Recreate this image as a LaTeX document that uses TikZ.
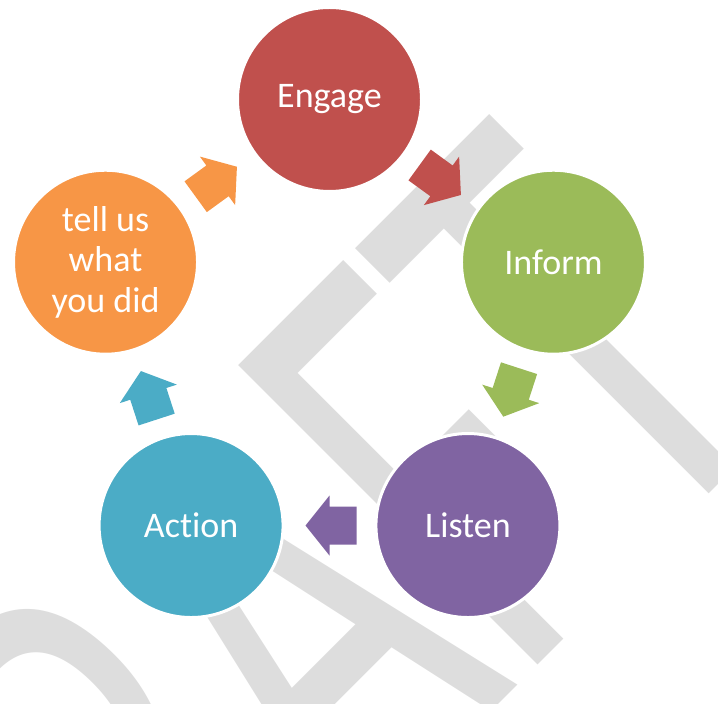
\documentclass[tikz,border=0pt]{standalone}
\usepackage{fontspec}
\setmainfont{Carlito}[Ligatures={NoCommon,NoContextual}]
\usetikzlibrary{calc}
\definecolor{cEngage}{HTML}{C0504D}
\definecolor{cInform}{HTML}{9BBB59}
\definecolor{cListen}{HTML}{8064A2}
\definecolor{cAction}{HTML}{4BACC6}
\definecolor{cTell}{HTML}{F79646}
\definecolor{wmgray}{RGB}{221,221,221}
\tikzset{
  stage/.style={circle, minimum size=184bp, inner sep=0pt, draw=white,
    line width=3bp, text=white, align=center,
    font=\fontsize{36bp}{40.3bp}\selectfont},
  blockarr/.pic={\fill[pic actions] (-27,-19) -- (0,-19) -- (0,-30) -- (24,0)
    -- (0,30) -- (0,19) -- (-27,19) -- cycle;}
}
\begin{document}
\begin{tikzpicture}[x=1bp,y=1bp]
\useasboundingbox (0,0) rectangle (718,704);
% watermark
\begin{scope}
  \clip (0,0) rectangle (718,704);
  \node[rotate=45, anchor=base east, inner sep=0pt, text=wmgray] (wm) at (793,294)
    {\scalebox{0.62}[1]{\fontsize{660bp}{660bp}\selectfont DRAFT}};
\end{scope}
\coordinate (c) at (329.5,369);
\node[stage, fill=cEngage] (engage) at ($(c)+(90:235.5)$) {Engage};
\node[stage, fill=cInform] (inform) at ($(c)+(18:235.5)$) {Inform};
\node[stage, fill=cListen] (listen) at ($(c)+(-54:235.5)$) {Listen};
\node[stage, fill=cAction] (action) at ($(c)+(-126:235.5)$) {Action};
\node[stage, fill=cTell] (tell) at ($(c)+(162:235.5)$) {tell us\\what\\you did};
% block arrows
\pic[fill=cTell, rotate=36] at ($(tell)!0.5!(engage)$) {blockarr};
\pic[fill=cEngage, rotate=-36] at ($(engage)!0.5!(inform)$) {blockarr};
\pic[fill=cInform, rotate=-108] at ($(inform)!0.5!(listen)$) {blockarr};
\pic[fill=cListen, rotate=180] at ($(listen)!0.5!(action)$) {blockarr};
\pic[fill=cAction, rotate=108] at ($(action)!0.5!(tell)$) {blockarr};
\end{tikzpicture}
\end{document}
